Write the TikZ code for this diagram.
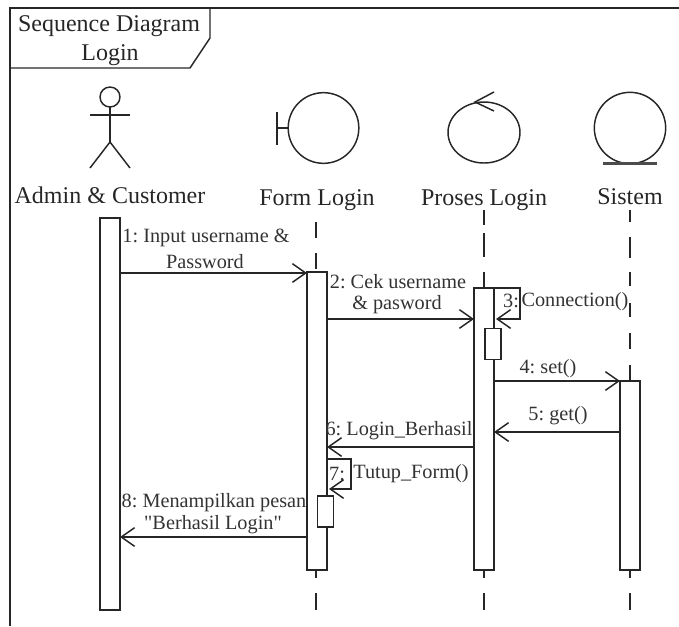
\documentclass[tikz,border=0pt]{standalone}
\usepackage{fontspec}
\setmainfont{Liberation Serif}
\newfontfamily\plainserif{Liberation Serif}
\usetikzlibrary{arrows.meta}
\tikzset{
  line/.style={draw=black!85,line width=1.1pt},
  bar/.style={line,fill=white,rectangle,inner sep=0pt,outer sep=0pt,minimum width=15pt},
  smallbar/.style={bar,minimum width=12pt,minimum height=23pt},
  life/.style={draw=black!85,line width=1.1pt},
  msg/.style={line,-{Straight Barb[length=10pt,width=14pt,line width=1.1pt]}},
  big/.style={inner sep=0pt,text=black!85,font=\fontsize{18pt}{20pt}\selectfont\frenchspacing},
  lab/.style={inner sep=0pt,text=black!80,font=\fontsize{15.2pt}{17pt}\selectfont\frenchspacing},
}
\begin{document}
\begin{tikzpicture}[x=0.75pt,y=-0.75pt]
\useasboundingbox (0,0) rectangle (679,626);
% frame
\coordinate (fTL) at (10,8); \coordinate (fTR) at (679,8); \coordinate (fBL) at (10,626);
\draw[line] (fTR) -- (fTL) -- (fBL);
\coordinate (t1) at (210,8); \coordinate (t2) at (210,38); \coordinate (t3) at (190,68); \coordinate (t4) at (10,68);
\draw[line] (t1) -- (t2) -- (t3) -- (t4);
\node[big] (title1) at (109,26) {Sequence Diagram};
\node[big] (title2) at (110,55) {Login};
% actor
\node[line,circle,inner sep=0pt,outer sep=0pt,minimum size=15pt] (head) at (110,97) {};
\coordinate (armL) at (90,115); \coordinate (armR) at (130,115);
\coordinate (hip) at (110,142); \coordinate (legL) at (90,168); \coordinate (legR) at (130,168);
\draw[line] (armL) -- (armR);
\draw[line] (head.south) -- (hip);
\draw[line] (legL) -- (hip) -- (legR);
\node[big] (lA) at (110,195) {Admin \& Customer};
% boundary
\node[line,circle,inner sep=0pt,outer sep=0pt,minimum size=53pt] (bnd) at (323.5,128) {};
\coordinate (bT) at (277,112); \coordinate (bB) at (277,145); \coordinate (bM) at (277,128);
\draw[line] (bT) -- (bB);
\draw[line] (bM) -- (bnd.west);
\node[big] (lF) at (317,200) {Form Login};
% control
\draw[line] (484,132.5) ellipse [x radius=36,y radius=30.5];
\coordinate (cTip) at (475,102); \coordinate (c1) at (494,92); \coordinate (c2) at (494,111);
\draw[line] (c1) -- (cTip) -- (c2);
\node[big] (lP) at (484,200) {Proses Login};
% entity
\node[line,circle,inner sep=0pt,outer sep=0pt,minimum size=53.5pt] (ent) at (630,128) {};
\coordinate (e1) at (603,163.5); \coordinate (e2) at (657,163.5);
\draw[draw=black!70,line width=1.6pt] (e1) -- (e2);
\node[big] (lS) at (630,197) {Sistem};
% bars
\node[bar,minimum height=294pt] (A) at (110,414) {};
\node[bar,minimum height=223.5pt] (F) at (317,421) {};
\node[bar,minimum height=211.5pt] (P) at (484,429) {};
\node[bar,minimum height=141.75pt] (S) at (630,475.5) {};
% lifelines
\coordinate (Ftop) at (316,222); \coordinate (Fend) at (316,610);
\coordinate (Ptop) at (484,210); \coordinate (Pend) at (484,610);
\coordinate (Stop) at (630,210); \coordinate (Send) at (630,610);
\draw[life,dash pattern=on 12pt off 11.25pt on 12pt off 3pt] (Ftop) -- (F.north -| Ftop);
\draw[life,dash pattern=on 6pt off 11.25pt on 12.75pt] (F.south -| Fend) -- (Fend);
\draw[life,dash pattern=on 11.25pt off 6pt on 18pt off 11.25pt on 12pt] (Ptop) -- (P.north);
\draw[life,dash pattern=on 6pt off 11.25pt on 12.75pt] (P.south) -- (Pend);
\draw[life,dash pattern=on 9pt off 11.25pt on 15.75pt off 10.5pt on 10.5pt off 12.75pt on 10.5pt off 12pt on 12pt off 12pt on 11.25pt] (Stop) -- (S.north);
\draw[life,dash pattern=on 6pt off 11.25pt on 12.75pt] (S.south) -- (Send);
% small bars
\node[smallbar] (P2) at (493,344) {};
\node[smallbar] (F2) at (325.5,511.5) {};
% messages
\coordinate (y1) at (0,273); \coordinate (y2) at (0,319); \coordinate (y4) at (0,381);
\coordinate (y5) at (0,432); \coordinate (y6) at (0,447); \coordinate (y8) at (0,537);
\draw[msg] (A.east |- y1) -- (F.west |- y1);
\draw[msg] (F.east |- y2) -- (P.west |- y2);
\draw[msg] (P.east |- y4) -- (S.west |- y4);
\draw[msg] (S.west |- y5) -- (P.east |- y5);
\draw[msg] (P.west |- y6) -- (F.east |- y6);
\draw[msg] (F.west |- y8) -- (A.east |- y8);
% self calls
\coordinate (s3a) at (494,288); \coordinate (s3b) at (520,288); \coordinate (s3c) at (520,319); \coordinate (s3d) at (496,319);
\draw[msg] (s3a) -- (s3b) -- (s3c) -- (s3d);
\coordinate (s7a) at (327,459); \coordinate (s7b) at (351,459); \coordinate (s7c) at (351,489); \coordinate (s7d) at (329,489);
\draw[msg] (s7a) -- (s7b) -- (s7c) -- (s7d);
% labels
\node[lab] (m1a) at (206,238) {1: Input username \&};
\node[lab] (m1b) at (205,262) {Password};
\node[lab] (m2a) at (398,282) {2: Cek username};
\node[lab] (m2b) at (397,305) {\& pasword};
\node[lab] (m3a) at (511,301) {3:};
\node[lab] (m3b) at (575,302) {Connection()};
\node[lab] (m4) at (548,369) {4: set()};
\node[lab] (m5) at (558,416) {5: get()};
\node[lab] (m6) at (399,431) {6: Login\_Berhasil};
\node[lab] (m7a) at (337,474) {7:};
\node[lab] (m7b) at (411,474) {Tutup\_Form()};
\node[lab] (m8a) at (214,503) {8: Menampilkan pesan};
\node[lab] (m8b) at (213,525) {\plainserif"Berhasil Login"};
\end{tikzpicture}
\end{document}
